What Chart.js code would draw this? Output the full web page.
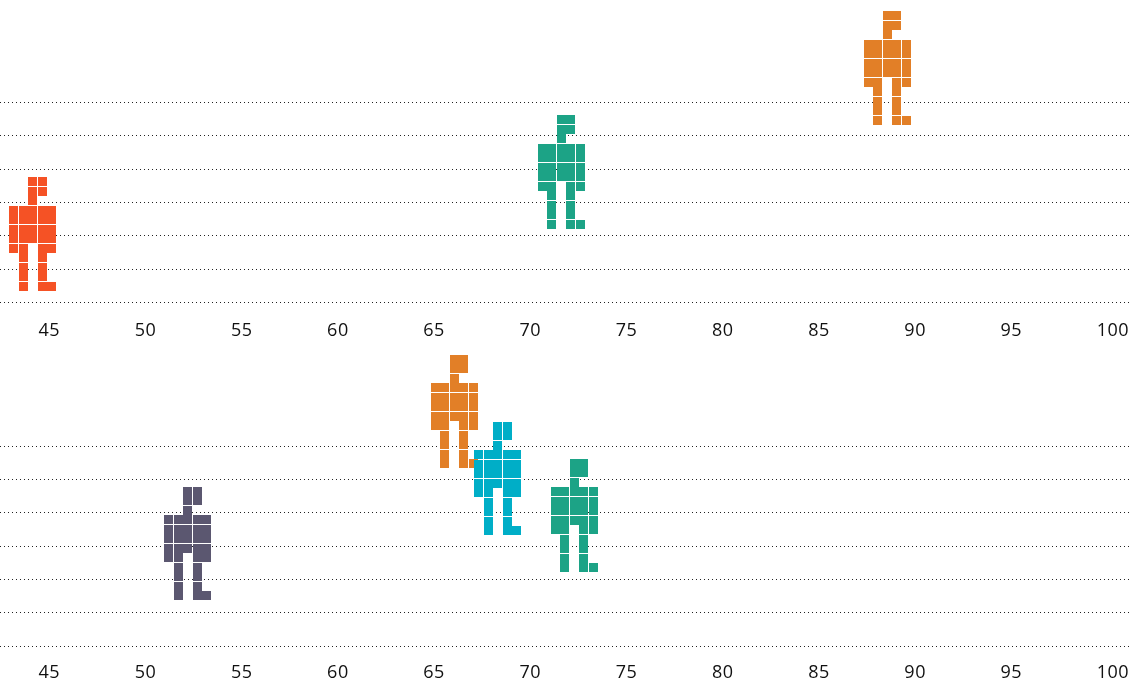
<!DOCTYPE html>
<html>
<head>
<meta charset="utf-8">
<style>
  html, body { margin: 0; padding: 0; background: #fff; overflow: hidden; }
  .panel { position: absolute; left: 0; width: 1140px; }
  #topPanel { top: 0; height: 340px; }
  #bottomPanel { top: 340px; height: 343px; }
</style>
<script src="https://cdn.jsdelivr.net/npm/chart.js@4"></script>
</head>
<body>
<div class="panel" id="topPanel"><canvas id="topChart"></canvas></div>
<div class="panel" id="bottomPanel"><canvas id="bottomChart"></canvas></div>
<script>
const tickValues = [45, 50, 55, 60, 65, 70, 75, 80, 85, 90, 95, 100];
const gridValues = [0, 1, 2, 3, 4, 5, 6];

// top panel figures
const topX = [44.69, 72.18, 89.13];
const topY = [2.055, 3.915, 7.035];
const topColors = ['#f55225', '#1ca386', '#e27f27'];
const topCols = [1, 0, 0];

// bottom panel figures, drawn in this order
const bottomX = [66.62, 68.86, 72.86, 52.75];
const bottomY = [7.02, 5.01, 3.9, 3.06];
const bottomColors = ['#e27f27', '#00aec7', '#1ca386', '#5b5770'];
const bottomCols = [0, 1, 0, 1];

const bodyMask = [
  '..##.', '..##.', '..#..',
  '#####', '#####', '#####', '#####',
  '##.##', '.#.#.', '.#.#.', '.#.#.', '.#.##',
];

// cells are 9.5px, the half pixel goes to whichever side the gap is on
function edge(i, shift) {
  return shift ? Math.ceil(i * 9.5) : Math.floor(i * 9.5);
}

// paints one figure, gaps are cut out so the grid shows through
function figure(color, colShift, rowShift) {
  const c = document.createElement('canvas');
  c.width = 47;
  c.height = 114;
  const g = c.getContext('2d');
  g.fillStyle = color;
  bodyMask.forEach((row, r) => {
    [...row].forEach((cell, i) => {
      if (cell !== '#') return;
      const x = edge(i, colShift);
      const y = edge(r, rowShift);
      g.fillRect(x, y, edge(i + 1, colShift) - x, edge(r + 1, rowShift) - y);
    });
  });
  g.globalCompositeOperation = 'destination-out';
  for (let i = 2 - colShift; i < 5; i += 2) g.fillRect(edge(i, colShift) - 1, 0, 1, 114);
  for (let r = 2 - rowShift; r <= 12; r += 2) g.fillRect(0, edge(r, rowShift) - 1, 47, 1);
  return c;
}

const crispFigures = {
  id: 'crispFigures',
  beforeDraw(chart) {
    chart.ctx.letterSpacing = '0.5px';
  },
  beforeDatasetsDraw(chart) {
    chart.ctx.imageSmoothingEnabled = false;
  },
};

function makePanel(id, xs, ys, colors, cols, rowShift, plotTop, axisHeight, tickPad) {
  new Chart(document.getElementById(id), {
    type: 'scatter',
    data: {
      datasets: [{
        data: xs.map((x, i) => ({ x: x, y: ys[i] })),
        pointStyle: colors.map((color, i) => figure(color, cols[i], rowShift)),
      }],
    },
    plugins: [crispFigures],
    options: {
      responsive: true,
      maintainAspectRatio: false,
      animation: false,
      layout: { autoPadding: false, padding: { left: 0, right: 9, top: 0, bottom: 0 } },
      plugins: { legend: { display: false }, tooltip: { enabled: false } },
      scales: {
        x: {
          min: 43,
          max: 101.78,
          grid: { display: false },
          border: { display: false },
          afterBuildTicks: function (axis) {
            axis.ticks = tickValues.map(v => ({ value: v }));
          },
          afterFit: function (axis) {
            axis.paddingLeft = 0;
            axis.paddingRight = 0;
            axis.height = axisHeight;
          },
          ticks: {
            autoSkip: false,
            maxRotation: 0,
            align: 'start',
            padding: tickPad,
            color: '#111',
            font: { family: '"Open Sans"', size: 18 },
          },
        },
        y: {
          min: 0,
          max: plotTop,
          afterBuildTicks: function (axis) {
            axis.ticks = gridValues.map(v => ({ value: v }));
          },
          afterFit: function (axis) {
            axis.width = 0;
          },
          border: { display: false, dash: [1, 3] },
          grid: { color: '#222', drawTicks: false },
          ticks: { display: false },
        },
      },
    },
  });
}

makePanel('topChart', topX, topY, topColors, topCols, 1, 9.075, 37.5, 10);
makePanel('bottomChart', bottomX, bottomY, bottomColors, bottomCols, 0, 9.18, 37, 8);
</script>
</body>
</html>
